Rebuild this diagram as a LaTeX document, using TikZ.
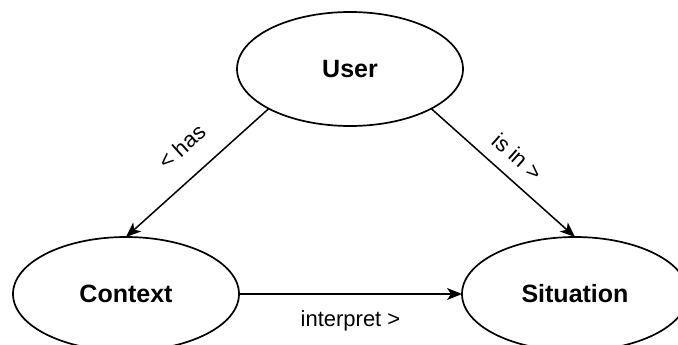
\documentclass[tikz,border=0pt]{standalone}
\usepackage{fontspec}
\setmainfont{Liberation Sans}
\usetikzlibrary{shapes.geometric,arrows.meta}
\tikzset{
  ent/.style={ellipse, draw, line width=1.7pt, minimum width=226pt, minimum height=114pt, inner sep=0pt, outer sep=0pt, font=\fontsize{25}{30}\selectfont\bfseries},
  rel/.style={-{Stealth[length=15pt,width=12pt,inset=4pt]}, line width=1.5pt},
  lbl/.style={inner sep=0pt, font=\fontsize{22}{26}\selectfont}
}
\begin{document}
\begin{tikzpicture}[x=1pt,y=-1pt]
\useasboundingbox (0,0) rectangle (678,345);
\node[ent] (usr) at (350,69){User};
\node[ent] (ctx) at (126,294){Context};
\node[ent] (sit) at (575,294){Situation};
\draw[rel](usr.206.6) -- node[lbl, pos=0.47, sloped, above=21pt]{< has} (ctx.north);
\draw[rel](usr.334) -- node[lbl, midway, sloped, above=13pt]{is in >} (sit.north);
\draw[rel](ctx.east) -- node[lbl, midway, below=16pt]{interpret >} (sit.west);

\end{tikzpicture}
\end{document}
